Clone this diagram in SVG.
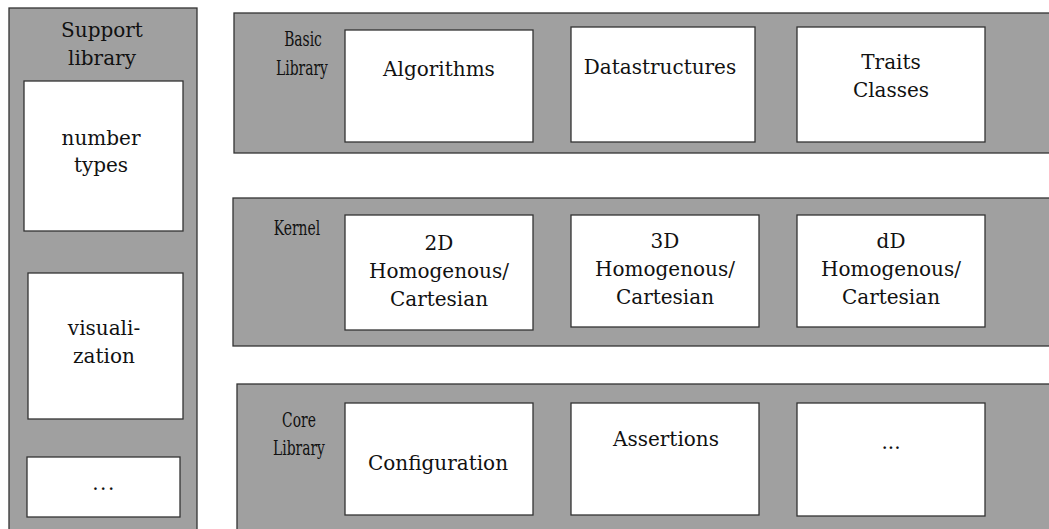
<svg xmlns="http://www.w3.org/2000/svg" width="1049" height="529" viewBox="0 0 1049 529">
  <style>
    .panel { fill: #a0a0a0; stroke: #333333; stroke-width: 1.3; }
    .box { fill: #ffffff; stroke: #333333; stroke-width: 1.3; }
    .t { font-family: "DejaVu Serif", "Liberation Serif", serif; font-size: 20px; fill: #111111; text-anchor: middle; }
    .lbl { font-family: "DejaVu Serif", "Liberation Serif", serif; font-size: 21px; fill: #111111; text-anchor: middle; }
  </style>
  <rect width="1049" height="529" fill="#ffffff"/>

  <!-- Support library column -->
  <g id="support-library">
    <rect class="panel" x="9" y="8" width="188" height="540"/>
    <text class="t" x="102" y="37">Support</text>
    <text class="t" x="102" y="65">library</text>
  </g>
  <g id="number-types">
    <rect class="box" x="24" y="81" width="159" height="150"/>
    <text class="t" x="101" y="145">number</text>
    <text class="t" x="101" y="172">types</text>
  </g>
  <g id="visualization">
    <rect class="box" x="28" y="273" width="155" height="146"/>
    <text class="t" x="104" y="335">visuali-</text>
    <text class="t" x="104" y="363">zation</text>
  </g>
  <g id="support-more">
    <rect class="box" x="27" y="457" width="153" height="60"/>
    <text class="t" x="104" y="490" letter-spacing="1.5">...</text>
  </g>

  <!-- Basic Library layer -->
  <g id="basic-library">
    <rect class="panel" x="234" y="13" width="830" height="140"/>
    <text class="lbl" transform="translate(303,46) scale(0.66,1)" x="0" y="0">Basic</text>
    <text class="lbl" transform="translate(302,75) scale(0.66,1)" x="0" y="0">Library</text>
  </g>
  <g id="algorithms">
    <rect class="box" x="345" y="30" width="188" height="112"/>
    <text class="t" x="439" y="76">Algorithms</text>
  </g>
  <g id="datastructures">
    <rect class="box" x="571" y="27" width="184" height="115"/>
    <text class="t" x="660" y="74">Datastructures</text>
  </g>
  <g id="traits-classes">
    <rect class="box" x="797" y="27" width="188" height="115"/>
    <text class="t" x="891" y="69">Traits</text>
    <text class="t" x="891" y="97">Classes</text>
  </g>

  <!-- Kernel layer -->
  <g id="kernel">
    <rect class="panel" x="233" y="198" width="830" height="148"/>
    <text class="lbl" transform="translate(297,235) scale(0.66,1)" x="0" y="0">Kernel</text>
  </g>
  <g id="kernel-2d">
    <rect class="box" x="345" y="215" width="188" height="115"/>
    <text class="t" x="439" y="250">2D</text>
    <text class="t" x="439" y="278">Homogenous/</text>
    <text class="t" x="439" y="306">Cartesian</text>
  </g>
  <g id="kernel-3d">
    <rect class="box" x="571" y="215" width="188" height="112"/>
    <text class="t" x="665" y="248">3D</text>
    <text class="t" x="665" y="276">Homogenous/</text>
    <text class="t" x="665" y="304">Cartesian</text>
  </g>
  <g id="kernel-dd">
    <rect class="box" x="797" y="215" width="188" height="112"/>
    <text class="t" x="891" y="248">dD</text>
    <text class="t" x="891" y="276">Homogenous/</text>
    <text class="t" x="891" y="304">Cartesian</text>
  </g>

  <!-- Core Library layer -->
  <g id="core-library">
    <rect class="panel" x="237" y="384" width="830" height="160"/>
    <text class="lbl" transform="translate(299,427) scale(0.66,1)" x="0" y="0">Core</text>
    <text class="lbl" transform="translate(299,455) scale(0.66,1)" x="0" y="0">Library</text>
  </g>
  <g id="configuration">
    <rect class="box" x="345" y="403" width="188" height="112"/>
    <text class="t" x="438" y="470">Configuration</text>
  </g>
  <g id="assertions">
    <rect class="box" x="571" y="403" width="188" height="112"/>
    <text class="t" x="666" y="446">Assertions</text>
  </g>
  <g id="core-more">
    <rect class="box" x="797" y="403" width="188" height="113"/>
    <text class="t" x="891" y="449" font-size="17">...</text>
  </g>

  <!-- no connectors in this layered layout -->
  <g id="connectors"/>
</svg>
